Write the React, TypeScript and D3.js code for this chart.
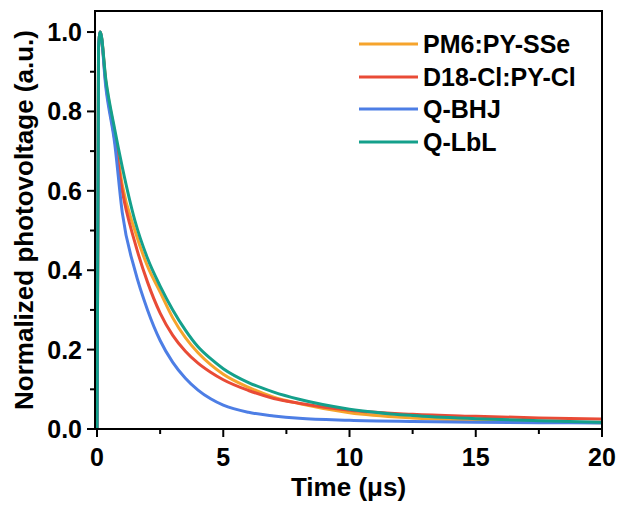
import React from "react";
import * as d3 from "d3";

const timeGrid = [0, 0.06, 0.13, 0.35, 0.7, 1.0, 1.5, 2.0, 2.5, 3.0, 3.5, 4.0, 4.5, 5.0, 6.0, 7.0, 8.0, 10, 12.5, 15, 17.5, 20];
const pm6Values = [0, 0.96, 1.0, 0.875, 0.745, 0.615, 0.50, 0.41, 0.345, 0.28, 0.23, 0.192, 0.162, 0.138, 0.105, 0.08, 0.064, 0.041, 0.028, 0.022, 0.018, 0.016];
const d18Values = [0, 0.96, 1.0, 0.87, 0.73, 0.60, 0.47, 0.37, 0.292, 0.236, 0.196, 0.166, 0.143, 0.124, 0.097, 0.077, 0.065, 0.047, 0.037, 0.032, 0.028, 0.025];
const bhjValues = [0, 0.96, 1.0, 0.86, 0.72, 0.545, 0.40, 0.30, 0.223, 0.168, 0.128, 0.098, 0.076, 0.06, 0.042, 0.033, 0.027, 0.022, 0.019, 0.017, 0.016, 0.015];
const lblValues = [0, 0.96, 1.0, 0.88, 0.755, 0.66, 0.525, 0.43, 0.36, 0.30, 0.249, 0.207, 0.177, 0.152, 0.117, 0.093, 0.075, 0.05, 0.034, 0.026, 0.021, 0.017];

const seriesNames = ["PM6:PY-SSe", "D18-Cl:PY-Cl", "Q-BHJ", "Q-LbL"];
const seriesColors = ["#F6A42C", "#E94B36", "#4D7EE5", "#14A08B"];
const seriesValues = [pm6Values, d18Values, bhjValues, lblValues];

const xTicks = [0, 5, 10, 15, 20];
const xMinorTicks = [2.5, 7.5, 12.5, 17.5];
const yTicks = [0, 0.2, 0.4, 0.6, 0.8, 1.0];
const yMinorTicks = [0.1, 0.3, 0.5, 0.7, 0.9];

const FONT = "Arial, 'Liberation Sans', sans-serif";

export default function App() {
  const W = 621, H = 505;
  const left = 95, right = 602, top = 11, bottom = 429;
  const x = d3.scaleLinear().domain([-0.08, 20]).range([left, right]);
  const y = d3.scaleLinear().domain([0, 1.053]).range([bottom, top]);
  const line = d3
    .line<number>()
    .x((_, i) => x(timeGrid[i]))
    .y((d) => y(d))
    .curve(d3.curveMonotoneX);

  const legendX = 359, legendY = [44, 77, 109, 142];

  return (
    <svg width={W} height={H} style={{ position: "absolute", left: 0, top: 0, background: "#fff" }}>
      <defs>
        <clipPath id="plot">
          <rect x={left} y={top} width={right - left} height={bottom - top} />
        </clipPath>
      </defs>
      <g clipPath="url(#plot)">
        {seriesValues.map((vals, i) => (
          <path key={i} d={line(vals) || ""} fill="none" stroke={seriesColors[i]} strokeWidth={3} strokeLinejoin="round" />
        ))}
      </g>
      <rect x={left} y={top} width={right - left} height={bottom - top} fill="none" stroke="#000" strokeWidth={2} />
      {xTicks.map((t) => (
        <g key={"xt" + t}>
          <line x1={x(t)} x2={x(t)} y1={bottom} y2={bottom + 8} stroke="#000" strokeWidth={2} />
          <text x={x(t)} y={bottom + 37} textAnchor="middle" fontFamily={FONT} fontWeight="bold" fontSize={25}>{t}</text>
        </g>
      ))}
      {xMinorTicks.map((t) => (
        <line key={"xm" + t} x1={x(t)} x2={x(t)} y1={bottom} y2={bottom + 5} stroke="#000" strokeWidth={2} />
      ))}
      {yTicks.map((t) => (
        <g key={"yt" + t}>
          <line x1={left - 8} x2={left} y1={y(t)} y2={y(t)} stroke="#000" strokeWidth={2} />
          <text x={left - 13} y={y(t) + 9} textAnchor="end" fontFamily={FONT} fontWeight="bold" fontSize={25}>{t.toFixed(1)}</text>
        </g>
      ))}
      {yMinorTicks.map((t) => (
        <line key={"ym" + t} x1={left - 5} x2={left} y1={y(t)} y2={y(t)} stroke="#000" strokeWidth={2} />
      ))}
      <text x={(left + right) / 2} y={496} textAnchor="middle" fontFamily={FONT} fontWeight="bold" fontSize={26}>Time (μs)</text>
      <text transform={`translate(33, ${(top + bottom) / 2}) rotate(-90)`} textAnchor="middle" fontFamily={FONT} fontWeight="bold" fontSize={26}>Normalized photovoltage (a.u.)</text>
      {seriesNames.map((n, i) => (
        <g key={n}>
          <line x1={legendX} x2={legendX + 59} y1={legendY[i]} y2={legendY[i]} stroke={seriesColors[i]} strokeWidth={3} />
          <text x={legendX + 64} y={legendY[i] + 9} fontFamily={FONT} fontWeight="bold" fontSize={25}>{n}</text>
        </g>
      ))}
    </svg>
  );
}
